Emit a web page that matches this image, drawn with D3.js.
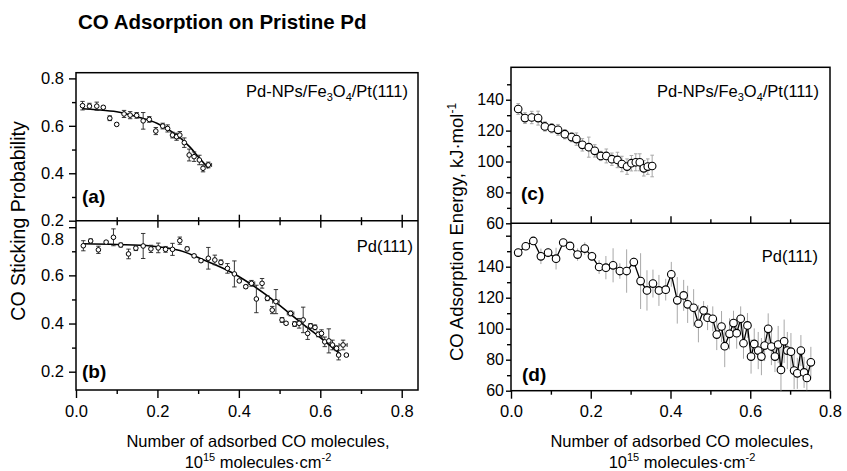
<!DOCTYPE html>
<html><head><meta charset="utf-8">
<script src="https://cdn.jsdelivr.net/npm/d3@7"></script>
<style>
body{margin:0;background:#fff}
svg{font-family:"Liberation Sans",Arial,Helvetica,sans-serif}
</style>
</head><body>
<svg id="chart" width="847" height="471"></svg>
<script>
// ---------- data ----------
// Panel (a): Pd-NPs/Fe3O4/Pt(111), sticking probability
const aX   = [0.016,0.033,0.051,0.067,0.083,0.100,0.118,0.133,0.149,0.165,0.180,0.196,0.213,0.225,0.237,0.247,0.255,0.266,0.278,0.290,0.303,0.312,0.325];
const aY   = [0.685,0.683,0.683,0.678,0.632,0.606,0.650,0.645,0.644,0.621,0.627,0.578,0.599,0.589,0.561,0.554,0.561,0.529,0.477,0.470,0.456,0.421,0.435];
const aErr = [0.018,0.012,0.017,0.005,0.010,0.005,0.015,0.015,0.012,0.035,0.012,0.015,0.012,0.015,0.012,0.015,0.015,0.020,0.025,0.020,0.020,0.015,0.012];
const aXErr= [0,0,0,0,0,0,0,0,0,0,0,0,0,0,0,0,0,0,0,0,0,0,0.008];
const aFitX = [0.016,0.05,0.10,0.15,0.20,0.25,0.28,0.30,0.325];
const aFitY = [0.672,0.668,0.659,0.638,0.610,0.558,0.510,0.470,0.421];

// Panel (b): Pd(111), sticking probability
const bX   = [0.018,0.036,0.055,0.074,0.092,0.110,0.129,0.147,0.165,0.184,0.202,0.220,0.237,0.255,0.273,0.290,0.307,0.325,0.341,0.356,0.372,0.389,0.401,0.417,0.431,0.443,0.457,0.470,0.482,0.491,0.506,0.516,0.527,0.537,0.548,0.558,0.569,0.576,0.587,0.595,0.603,0.611,0.621,0.630,0.640,0.645,0.656,0.664];
const bY   = [0.723,0.743,0.706,0.738,0.758,0.726,0.689,0.713,0.722,0.710,0.714,0.708,0.708,0.744,0.710,0.681,0.661,0.671,0.664,0.654,0.629,0.606,0.577,0.553,0.567,0.502,0.567,0.505,0.456,0.491,0.415,0.401,0.442,0.398,0.401,0.415,0.359,0.390,0.384,0.355,0.359,0.324,0.328,0.311,0.297,0.269,0.311,0.269];
const bErr = [0.021,0.008,0.015,0.005,0.035,0.008,0.020,0.010,0.052,0.015,0.020,0.012,0.025,0.015,0.008,0.006,0.006,0.045,0.020,0.010,0.020,0.054,0.005,0.006,0.012,0.057,0.020,0.010,0.015,0.050,0.010,0.005,0.010,0.010,0.020,0.053,0.025,0.010,0.010,0.010,0.015,0.020,0.050,0.020,0.010,0.020,0.020,0.005];
const bXErr= [0,0,0,0,0,0,0,0,0,0,0,0,0,0,0,0,0,0,0,0,0,0,0,0,0.008,0,0,0,0,0.008,0,0,0.008,0,0,0,0,0,0,0,0,0,0,0,0,0,0.010,0];
const bFitX = [0.018,0.10,0.184,0.255,0.304,0.386,0.468,0.550,0.600,0.650];
const bFitY = [0.731,0.728,0.722,0.703,0.671,0.609,0.518,0.407,0.342,0.272];

// Panel (c): Pd-NPs/Fe3O4/Pt(111), adsorption energy
const cX   = [0.018,0.035,0.052,0.068,0.085,0.102,0.118,0.135,0.152,0.164,0.179,0.195,0.210,0.225,0.239,0.253,0.267,0.278,0.291,0.302,0.313,0.323,0.333,0.343,0.354];
const cY   = [134.0,128.1,128.5,128.1,122.7,121.6,120.5,117.7,115.8,114.5,110.8,109.3,106.9,103.6,103.6,101.5,101.0,98.4,96.7,98.9,99.5,99.5,95.6,96.7,97.1];
const cErr = [3.5,3.5,4,4.5,3,3,3.5,3,3,4,4,6.5,4,3,4.5,4,5,5,5,5,5.5,5.5,5,5,7];

// Panel (d): Pd(111), adsorption energy
const dX   = [0.018,0.037,0.056,0.075,0.093,0.113,0.131,0.148,0.167,0.185,0.203,0.221,0.238,0.256,0.273,0.290,0.308,0.325,0.341,0.356,0.371,0.388,0.402,0.417,0.433,0.443,0.458,0.470,0.483,0.493,0.506,0.516,0.528,0.536,0.548,0.558,0.566,0.576,0.583,0.593,0.602,0.610,0.620,0.628,0.636,0.645,0.653,0.662,0.670,0.677,0.685,0.693,0.702,0.710,0.718,0.727,0.735,0.742,0.752];
const dY   = [149.1,153.2,156.6,146.7,149.1,145.2,155.6,153.4,147.8,151.7,146.7,139.8,139.4,140.9,137.2,137.2,143.0,130.7,124.7,129.1,124.7,125.2,135.1,118.3,121.5,115.7,113.5,103.2,111.8,107.1,106.4,96.2,101.4,88.7,96.7,103.6,97.1,106.4,90.6,102.1,82.0,90.2,85.9,82.0,89.1,99.9,88.5,82.0,89.8,73.4,91.9,85.9,85.2,73.0,71.2,85.9,71.8,68.2,78.3];
const dErr = [2,2,2,5,3,7,2,2,4,4,3,4.5,7.5,11,5,14,3,18,13,9,10,7,8,15,10,12,12,12,6,8,8,10,10,13.5,10,8,10,8,10,8,11,10,12,12,10,10,12,10,12,14,14,12,12,12,10,10,10,8,10];

// tick values
const xMajorL = [0,0.2,0.4,0.6,0.8], xMinorL = [0.1,0.3,0.5,0.7];
const xSepMajor = [0.2,0.4,0.6,0.8], xSepMinor = [0.1,0.3,0.5,0.7];
const pMajor = [0.2,0.4,0.6,0.8], pMinor = [0.3,0.5,0.7];
const eMajorC = [60,80,100,120,140], eMinorC = [70,90,110,130,150];
const eMajorD = [60,80,100,120,140,160], eMinorD = [70,90,110,130,150];

// ---------- layout ----------
const svg = d3.select("#chart");
const L = {x0:76, x1:418, aTop:72.7, mid:220.7, bot:390};
const R = {x0:511, x1:830, cTop:67.3, mid:223.3, bot:390.7};

const xL = d3.scaleLinear().domain([0,0.84]).range([L.x0,L.x1]);
const yA = d3.scaleLinear().domain([0.2,0.824]).range([L.mid,L.aTop]);
const yB = d3.scaleLinear().domain([0.124,0.827]).range([L.bot,L.mid]);
const xR = d3.scaleLinear().domain([0,0.8]).range([R.x0,R.x1]);
const yC = d3.scaleLinear().domain([60,161]).range([R.mid,R.cTop]);
const yD = d3.scaleLinear().domain([60,168]).range([R.bot,R.mid]);

const fmt1 = d3.format(".1f");

function styleAxis(g, fs){
  g.selectAll(".domain").remove();
  g.selectAll("line").attr("stroke","#000").attr("stroke-width",1.4);
  g.selectAll("text").attr("fill","#000").style("font-size",fs+"px")
    .style("font-family",'"Liberation Sans",Arial,sans-serif');
}
function frame(x0,y0,x1,y1){
  svg.append("rect").attr("x",x0).attr("y",y0).attr("width",x1-x0).attr("height",y1-y0)
    .attr("fill","none").attr("stroke","#000").attr("stroke-width",1.5);
}

// clip paths
const defs = svg.append("defs");
function clip(id,x0,y0,x1,y1){
  defs.append("clipPath").attr("id",id).append("rect")
    .attr("x",x0).attr("y",y0).attr("width",x1-x0).attr("height",y1-y0);
}
clip("clipA",L.x0,L.aTop,L.x1,L.mid);
clip("clipB",L.x0,L.mid,L.x1,L.bot);
clip("clipC",R.x0,R.cTop,R.x1,R.mid);
clip("clipD",R.x0,R.mid,R.x1,R.bot);

// ---------- left panels axes ----------
let g = svg.append("g").attr("transform",`translate(${L.x0},0)`)
  .call(d3.axisLeft(yA).tickValues(pMajor).tickFormat(fmt1).tickSize(7).tickPadding(5));
styleAxis(g,16.5);
g = svg.append("g").attr("transform",`translate(${L.x0},0)`)
  .call(d3.axisLeft(yA).tickValues(pMinor).tickFormat("").tickSize(4));
styleAxis(g,16);
g = svg.append("g").attr("transform",`translate(${L.x0},0)`)
  .call(d3.axisLeft(yB).tickValues(pMajor).tickFormat(fmt1).tickSize(7).tickPadding(5));
styleAxis(g,16.5);
g.selectAll(".tick").filter(d=>d===0.8).select("text").attr("dy","1.05em");
g = svg.append("g").attr("transform",`translate(${L.x0},0)`)
  .call(d3.axisLeft(yB).tickValues(pMinor).tickFormat("").tickSize(4));
styleAxis(g,16);
[[xSepMajor,6],[xSepMinor,3.5]].forEach(([vals,s])=>{
  let t = svg.append("g").attr("transform",`translate(0,${L.mid})`)
    .call(d3.axisTop(xL).tickValues(vals).tickFormat("").tickSize(s));
  styleAxis(t,16);
  t = svg.append("g").attr("transform",`translate(0,${L.mid})`)
    .call(d3.axisBottom(xL).tickValues(vals).tickFormat("").tickSize(s+1));
  styleAxis(t,16);
});
g = svg.append("g").attr("transform",`translate(0,${L.bot})`)
  .call(d3.axisBottom(xL).tickValues(xMajorL).tickFormat(fmt1).tickSize(8).tickPadding(7));
styleAxis(g,16.5);
g = svg.append("g").attr("transform",`translate(0,${L.bot})`)
  .call(d3.axisBottom(xL).tickValues(xMinorL).tickFormat("").tickSize(4));
styleAxis(g,16);
frame(L.x0,L.aTop,L.x1,L.bot);
svg.append("line").attr("x1",L.x0).attr("x2",L.x1).attr("y1",L.mid).attr("y2",L.mid)
  .attr("stroke","#000").attr("stroke-width",1.5);

// ---------- right panels axes ----------
g = svg.append("g").attr("transform",`translate(${R.x0},0)`)
  .call(d3.axisLeft(yC).tickValues(eMajorC).tickFormat(d3.format("d")).tickSize(5).tickPadding(2));
styleAxis(g,16);
g = svg.append("g").attr("transform",`translate(${R.x0},0)`)
  .call(d3.axisLeft(yC).tickValues(eMinorC).tickFormat("").tickSize(4));
styleAxis(g,16);
g = svg.append("g").attr("transform",`translate(${R.x0},0)`)
  .call(d3.axisLeft(yD).tickValues(eMajorD).tickFormat(d=>d===160?"":d).tickSize(5).tickPadding(2));
styleAxis(g,16);
g = svg.append("g").attr("transform",`translate(${R.x0},0)`)
  .call(d3.axisLeft(yD).tickValues(eMinorD).tickFormat("").tickSize(4));
styleAxis(g,16);
g = svg.append("g").attr("transform",`translate(0,${R.mid})`)
  .call(d3.axisTop(xR).tickValues([0.2,0.4,0.6]).tickFormat("").tickSize(7));
styleAxis(g,16);
g = svg.append("g").attr("transform",`translate(0,${R.mid})`)
  .call(d3.axisTop(xR).tickValues([0.1,0.3,0.5,0.7]).tickFormat("").tickSize(4));
styleAxis(g,16);
g = svg.append("g").attr("transform",`translate(0,${R.bot})`)
  .call(d3.axisBottom(xR).tickValues(xMajorL).tickFormat(fmt1).tickSize(8).tickPadding(7));
styleAxis(g,16.5);
g = svg.append("g").attr("transform",`translate(0,${R.bot})`)
  .call(d3.axisBottom(xR).tickValues(xMinorL).tickFormat("").tickSize(4));
styleAxis(g,16);
frame(R.x0,R.cTop,R.x1,R.bot);
svg.append("line").attr("x1",R.x0).attr("x2",R.x1).attr("y1",R.mid).attr("y2",R.mid)
  .attr("stroke","#000").attr("stroke-width",1.5);

// ---------- data marks ----------
function stickPanel(xs,ys,errs,xerrs,fx,fy,xS,yS,clipId){
  const gp = svg.append("g").attr("clip-path",`url(#${clipId})`);
  const data = xs.map((x,i)=>({x,y:ys[i],e:errs[i],xe:xerrs[i]}));
  const fit = fx.map((x,i)=>[x,fy[i]]);
  gp.append("path").datum(fit)
    .attr("d",d3.line().x(d=>xS(d[0])).y(d=>yS(d[1])).curve(d3.curveCatmullRom.alpha(0.5)))
    .attr("fill","none").attr("stroke","#000").attr("stroke-width",1.6);
  const eb = gp.append("g").attr("stroke","#222").attr("stroke-width",0.9);
  data.forEach(d=>{
    const cx=xS(d.x), y1=yS(d.y+d.e), y2=yS(d.y-d.e);
    eb.append("line").attr("x1",cx).attr("x2",cx).attr("y1",y1).attr("y2",y2);
    eb.append("line").attr("x1",cx-2.2).attr("x2",cx+2.2).attr("y1",y1).attr("y2",y1);
    eb.append("line").attr("x1",cx-2.2).attr("x2",cx+2.2).attr("y1",y2).attr("y2",y2);
    if(d.xe>0){
      const cy=yS(d.y), xa=xS(d.x-d.xe), xb=xS(d.x+d.xe);
      eb.append("line").attr("x1",xa).attr("x2",xb).attr("y1",cy).attr("y2",cy);
      eb.append("line").attr("x1",xa).attr("x2",xa).attr("y1",cy-2).attr("y2",cy+2);
      eb.append("line").attr("x1",xb).attr("x2",xb).attr("y1",cy-2).attr("y2",cy+2);
    }
  });
  gp.selectAll("circle.pt").data(data).join("circle")
    .attr("cx",d=>xS(d.x)).attr("cy",d=>yS(d.y)).attr("r",2.3)
    .attr("fill","#fff").attr("stroke","#000").attr("stroke-width",1);
}
stickPanel(aX,aY,aErr,aXErr,aFitX,aFitY,xL,yA,"clipA");
stickPanel(bX,bY,bErr,bXErr,bFitX,bFitY,xL,yB,"clipB");

function energyPanel(xs,ys,errs,xS,yS,clipId,caps){
  const gp = svg.append("g").attr("clip-path",`url(#${clipId})`);
  const data = xs.map((x,i)=>({x,y:ys[i],e:errs[i]}));
  const eb = gp.append("g").attr("stroke","#a8a8a8").attr("stroke-width",1);
  data.forEach(d=>{
    const cx=xS(d.x), y1=yS(d.y+d.e), y2=yS(d.y-d.e);
    eb.append("line").attr("x1",cx).attr("x2",cx).attr("y1",y1).attr("y2",y2);
    if(caps){
      eb.append("line").attr("x1",cx-1.8).attr("x2",cx+1.8).attr("y1",y1).attr("y2",y1);
      eb.append("line").attr("x1",cx-1.8).attr("x2",cx+1.8).attr("y1",y2).attr("y2",y2);
    }
  });
  gp.append("path").datum(data)
    .attr("d",d3.line().x(d=>xS(d.x)).y(d=>yS(d.y)))
    .attr("fill","none").attr("stroke","#000").attr("stroke-width",1.3);
  gp.selectAll("circle.pt").data(data).join("circle")
    .attr("cx",d=>xS(d.x)).attr("cy",d=>yS(d.y)).attr("r",3.8)
    .attr("fill","#fff").attr("stroke","#000").attr("stroke-width",1.1);
}
energyPanel(cX,cY,cErr,xR,yC,"clipC",true);
energyPanel(dX,dY,dErr,xR,yD,"clipD",false);

// ---------- texts ----------
function sampleLabel(xRight,yBase,kind){
  const t = svg.append("text").attr("x",xRight).attr("y",yBase).attr("text-anchor","end")
    .style("font-size","16.5px").attr("fill","#000");
  if(kind==="np"){
    t.append("tspan").text("Pd-NPs/Fe");
    t.append("tspan").text("3").style("font-size","11px").attr("dy",4);
    t.append("tspan").text("O").attr("dy",-4);
    t.append("tspan").text("4").style("font-size","11px").attr("dy",4);
    t.append("tspan").text("/Pt(111)").attr("dy",-4);
  } else {
    t.text("Pd(111)");
  }
}
sampleLabel(408,97,"np");
sampleLabel(413,252,"pd");
sampleLabel(819,97,"np");
sampleLabel(818,262,"pd");

function panelTag(x,y,s){
  svg.append("text").attr("x",x).attr("y",y).text(s)
    .style("font-size","19px").style("font-weight","bold").attr("fill","#000");
}
panelTag(82,203,"(a)");
panelTag(82,378,"(b)");
panelTag(521,200,"(c)");
panelTag(522,381,"(d)");

svg.append("text").attr("x",78).attr("y",29).text("CO Adsorption on Pristine Pd")
  .style("font-size","20.5px").style("font-weight","bold").attr("fill","#000");

svg.append("text").attr("transform","translate(25,221) rotate(-90)").attr("text-anchor","middle")
  .style("font-size","19.5px").attr("fill","#000").text("CO Sticking Probability");
const yt = svg.append("text").attr("transform","translate(463,232) rotate(-90)").attr("text-anchor","middle")
  .style("font-size","18.5px").attr("fill","#000");
yt.append("tspan").text("CO Adsorption Energy, kJ\u00B7mol");
yt.append("tspan").text("-1").style("font-size","12px").attr("dy",-7);

function xTitle(cx){
  svg.append("text").attr("x",cx).attr("y",447).attr("text-anchor","middle")
    .style("font-size","16.5px").attr("fill","#000").text("Number of adsorbed CO molecules,");
  const t = svg.append("text").attr("x",cx).attr("y",468).attr("text-anchor","middle")
    .style("font-size","16.5px").attr("fill","#000");
  t.append("tspan").text("10");
  t.append("tspan").text("15").style("font-size","11px").attr("dy",-7);
  t.append("tspan").text(" molecules\u00B7cm").attr("dy",7);
  t.append("tspan").text("-2").style("font-size","11px").attr("dy",-7);
}
xTitle(258);
xTitle(682);
</script>
</body></html>
